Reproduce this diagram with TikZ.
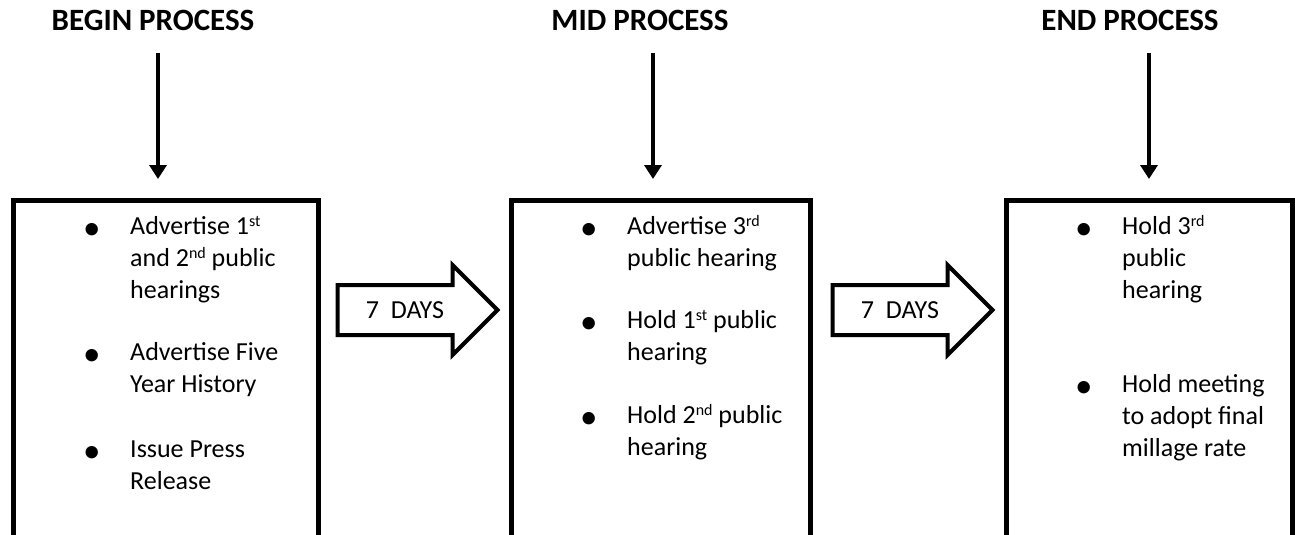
\documentclass[tikz,border=0pt]{standalone}
\usepackage{fontspec}
\setmainfont{Carlito}
\usetikzlibrary{arrows.meta,shapes.arrows}

\tikzset{
  proctitle/.style={font=\fontsize{31}{36}\selectfont\bfseries, anchor=base, inner sep=0pt},
  procbox/.style={draw, line width=5pt, outer sep=0pt, anchor=north west, minimum height=400pt},
  procdrop/.style={line width=4.5pt, -{Triangle[width=17pt,length=14pt]}, shorten >=21pt},
  dayarrow/.style={draw, line width=4pt, shape=single arrow,
    single arrow head extend=20pt, single arrow head indent=0pt,
    minimum height=160pt, text height=16pt, text depth=0pt,
    inner ysep=15pt, inner xsep=2pt, font=\fontsize{26}{30}\selectfont},
  procitem/.style={anchor=base west, inner sep=0pt, font=\fontsize{26}{32.3}\selectfont}
}
\newcommand{\procdot}{\raisebox{-5pt}{\fontsize{35}{35}\selectfont\textbullet}}
\newcommand{\procsup}[1]{\raisebox{8pt}{\fontsize{16}{16}\selectfont #1}}
\newcommand{\procpoint}[1]{\begin{tabular}[t]{@{}p{47pt}@{}l@{}}\procdot & #1\end{tabular}}

\begin{document}
\begin{tikzpicture}[x=1pt,y=-1pt]
    \useasboundingbox (0,0) rectangle (1295,535);
    \clip (0,0) rectangle (1295,535);

    % stage titles
    \node[proctitle] (begintitle) at (153,31) {BEGIN PROCESS};
    \node[proctitle] (midtitle)   at (640,31) {MID PROCESS};
    \node[proctitle] (endtitle)   at (1130,31) {END PROCESS};

    % the three boxes (bottom runs off the page)
    \node[procbox, minimum width=304.5pt] (beginbox) at (13.5,200) {};
    \node[procbox, minimum width=299pt]   (midbox)   at (511,200) {};
    \node[procbox, minimum width=286pt]   (endbox)   at (1006,200) {};

    % arrows from titles down to boxes
    \coordinate (begindrop) at (158,53);
    \coordinate (middrop)   at (653,53);
    \coordinate (enddrop)   at (1149,53);
    \draw[procdrop] (begindrop) -- (begindrop |- beginbox.north);
    \draw[procdrop] (middrop)   -- (middrop |- midbox.north);
    \draw[procdrop] (enddrop)   -- (enddrop |- endbox.north);

    % waiting periods
    \node[dayarrow] (daysone) at (405,310) {7\ \ DAYS};
    \node[dayarrow] (daystwo) at (900,310) {7\ \ DAYS};

    % begin items
    \node[procitem] (beginone) at (83,234)
      {\procpoint{Advertise 1\procsup{st}\\ & and 2\procsup{nd} public\\ & hearings}};
    \node[procitem] (begintwo) at (83,360)
      {\procpoint{Advertise Five\\ & Year History}};
    \node[procitem] (beginthree) at (83,457)
      {\procpoint{Issue Press\\ & Release}};

    % mid items
    \node[procitem] (midone) at (580,234)
      {\procpoint{Advertise 3\procsup{rd}\\ & public hearing}};
    \node[procitem] (midtwo) at (580,328)
      {\procpoint{Hold 1\procsup{st} public\\ & hearing}};
    \node[procitem] (midthree) at (580,423)
      {\procpoint{Hold 2\procsup{nd} public\\ & hearing}};

    % end items
    \node[procitem] (endone) at (1075,234)
      {\procpoint{Hold 3\procsup{rd}\\ & public\\ & hearing}};
    \node[procitem] (endtwo) at (1075,392)
      {\procpoint{Hold meeting\\ & to adopt final\\ & millage rate}};
\end{tikzpicture}
\end{document}
